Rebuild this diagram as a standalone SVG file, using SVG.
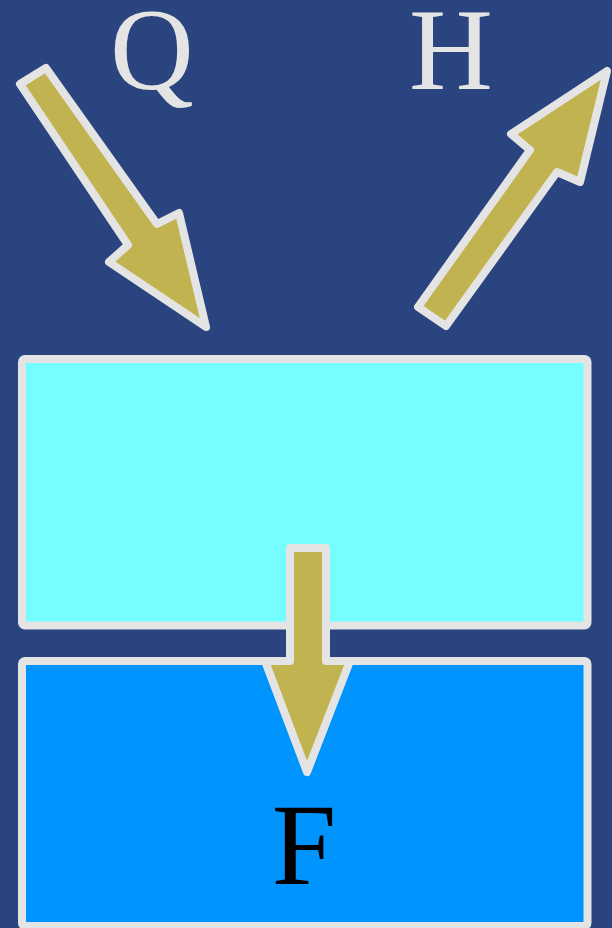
<svg xmlns="http://www.w3.org/2000/svg" width="612" height="928" viewBox="0 0 612 928">
<style>
.box{stroke:#e4e4e4;stroke-width:8;}
.arrow{fill:#c1b34f;stroke:#e4e4e4;stroke-width:8;stroke-linejoin:round;}
.lbl{font-family:"Liberation Serif","Times New Roman",serif;font-size:116px;text-anchor:middle;}
</style>
<rect x="0" y="0" width="612" height="928" fill="#29447e"/>
<g id="top-box">
<rect class="box" x="22" y="359" width="565.5" height="266.5" rx="3" fill="#74feff"/>
</g>
<g id="bottom-box">
<rect class="box" x="22" y="661" width="565.5" height="265" rx="3" fill="#0094ff"/>
<text class="lbl" x="304" y="884" fill="#000000">F</text>
</g>
<g id="label-Q">
<text class="lbl" x="152" y="89" fill="#e4e4e4">Q</text>
</g>
<g id="label-H">
<text class="lbl" x="451" y="89" fill="#e4e4e4">H</text>
</g>
<g id="connectors">
<polygon class="arrow" points="20,84 46,68 157,224 179,213 206,327 109,262 128,245"/>
<polygon class="arrow" points="418,307 530,150 511,134 607,71 580,182 557,172 446,326"/>
<polygon class="arrow" points="290,548 326,548 326,661 350,661 307,772 265,661 290,661"/>
</g>
</svg>
